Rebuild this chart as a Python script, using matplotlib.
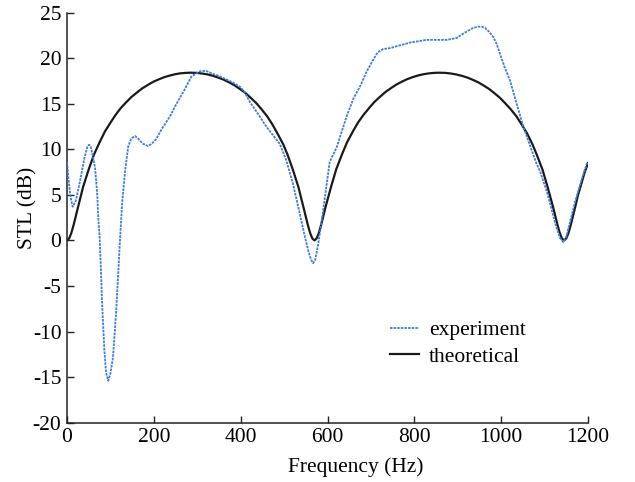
import matplotlib
matplotlib.use("Agg")
import matplotlib.pyplot as plt

plt.rcParams['font.family'] = ['Liberation Serif', 'DejaVu Serif']
plt.rcParams['axes.unicode_minus'] = False

# theoretical STL curve
theo_freq = [0, 5, 10, 15, 20, 25, 37, 50, 62, 75, 87, 100, 112, 124, 137, 149, 162, 174, 187,
             199, 212, 224, 237, 249, 261, 274, 285, 299, 311, 324, 336, 348, 361, 373, 386,
             398, 411, 423, 436, 448, 461, 473, 485, 498, 508, 520, 533, 545, 550, 555, 560,
             565, 570,
             575, 580, 585, 590, 595, 608, 620, 633, 645, 658, 670, 683, 696, 708, 721, 733,
             746, 758, 771, 783, 796, 808, 821, 834, 846, 857, 871, 884, 896, 909, 922, 934,
             947, 959, 972, 984, 997, 1009, 1022, 1035, 1047, 1060, 1072, 1082, 1095, 1107,
             1120, 1125, 1130, 1135, 1140, 1145,
             1150, 1155, 1160, 1165, 1170, 1177, 1185, 1192, 1200]
theo_stl = [0, 0.22, 0.81, 1.65, 2.60, 3.57, 5.85, 7.79, 9.40, 10.76, 11.92, 12.91, 13.78,
            14.53, 15.19, 15.76, 16.26, 16.70, 17.08, 17.41, 17.68, 17.91, 18.09, 18.23, 18.33,
            18.38, 18.40, 18.38, 18.31, 18.21, 18.06, 17.87, 17.63, 17.35, 17.01, 16.62, 16.17,
            15.65, 15.06, 14.39, 13.62, 12.73, 11.71, 10.55, 9.40, 7.79, 5.85, 3.57, 2.60, 1.65,
            0.81, 0.22, 0,
            0.22, 0.81, 1.65, 2.60, 3.57, 5.85, 7.79, 9.40, 10.76, 11.92, 12.91, 13.78, 14.53,
            15.19, 15.76, 16.26, 16.70, 17.08, 17.41, 17.68, 17.91, 18.09, 18.23, 18.33, 18.38,
            18.40, 18.38, 18.31, 18.21, 18.06, 17.87, 17.63, 17.35, 17.01, 16.62, 16.17, 15.65,
            15.06, 14.39, 13.62, 12.73, 11.71, 10.55, 9.40, 7.79, 5.85, 3.57, 2.60, 1.65, 0.81,
            0.22, 0,
            0.22, 0.81, 1.65, 2.60, 3.57, 4.98, 6.27, 7.43, 8.47]

exp_freq = [0, 4, 8, 13, 20, 30, 40, 47, 51, 55, 60, 65, 70, 72, 75, 78, 81, 86, 90, 95,
            100, 106, 113, 118, 122, 127, 134, 141, 148, 157, 165, 175, 187, 195, 205, 218,
            237, 250, 268, 287, 306, 320, 335, 352, 383, 400, 410, 421, 444, 456, 467, 490,
            505, 520, 533, 545, 555, 562, 567, 572, 580, 590, 605, 621, 644, 660, 675, 690,
            705, 715, 728, 745, 759, 790, 828, 875, 897, 910, 920, 935, 947, 955, 963, 972,
            982, 990, 997, 1008, 1020, 1032, 1043, 1051, 1065, 1080, 1090, 1105, 1115, 1125,
            1135, 1143, 1150, 1160, 1170, 1185, 1197, 1200]
exp_stl = [8.6, 6.5, 4.8, 3.7, 4.3, 6.5, 9.0, 10.3, 10.5, 10.2, 9.2, 7.8, 4.8, 2.5, 0.5, -3.0,
           -7.0, -12.0, -14.5, -15.4, -14.6, -12.8, -8.0, -3.6, 0.0, 4.1, 7.7, 10.3, 11.2, 11.45,
           11.1, 10.6, 10.35, 10.6, 11.1, 12.2, 13.6, 14.8, 16.3, 18.0, 18.55, 18.6, 18.3, 18.0,
           17.3, 16.8, 16.2, 15.2, 13.6, 12.7, 12.0, 10.6, 8.8, 6.3, 3.6, 1.0, -1.0, -2.1, -2.5,
           -2.1, 0.0, 3.3, 8.6, 10.2, 13.6, 15.6, 16.9, 18.5, 19.8, 20.6, 21.0, 21.1, 21.3, 21.7,
           22.0, 22.0, 22.2, 22.6, 22.9, 23.3, 23.45, 23.45, 23.3, 22.9, 22.3, 21.5, 20.5, 19.0,
           17.6, 15.6, 13.8, 12.5, 10.6, 8.6, 7.5, 5.4, 3.6, 1.8, 0.3, -0.2, 0.4, 2.3, 4.2, 6.6,
           8.4, 8.6]

x_ticks = [0, 200, 400, 600, 800, 1000, 1200]
y_ticks = [-20, -15, -10, -5, 0, 5, 10, 15, 20, 25]

FS = 15.5

fig = plt.figure(figsize=(6.35, 4.82), dpi=100)
ax = fig.add_axes([0.1055, 0.123, 0.8205, 0.851])

ax.plot(theo_freq, theo_stl, color='#1a1a1a', lw=1.6, label='theoretical', zorder=2)
ax.plot(exp_freq, exp_stl, color='#3b7dd8', lw=1.3, linestyle=(0, (1.4, 0.6)),
        label='experiment', zorder=3)

ax.set_xlim(0, 1200)
ax.set_ylim(-20, 25)
ax.set_xticks(x_ticks)
ax.set_yticks(y_ticks)
ax.set_xticklabels([str(t) for t in x_ticks])
ax.set_yticklabels([str(t) for t in y_ticks])
ax.tick_params(direction='in', length=5, width=1, labelsize=FS, pad=4, colors='#222222')
for lab in ax.get_xticklabels() + ax.get_yticklabels():
    lab.set_color('black')

for s in ['top', 'right']:
    ax.spines[s].set_visible(False)
for s in ['left', 'bottom']:
    ax.spines[s].set_linewidth(1.1)
    ax.spines[s].set_color('#222222')

ax.set_xlabel('Frequency (Hz)', fontsize=FS)
ax.set_ylabel('STL (dB)', fontsize=FS)
ax.xaxis.set_label_coords(0.555, -0.085)
ax.yaxis.set_label_coords(-0.056, 0.523)

handles, labels = ax.get_legend_handles_labels()
leg = ax.legend([handles[1], handles[0]], [labels[1], labels[0]],
                loc='upper left', bbox_to_anchor=(0.62, 0.25), frameon=False,
                fontsize=FS, handlelength=1.35, handletextpad=0.45, labelspacing=0.3,
                borderpad=0, borderaxespad=0)

fig.savefig('out.png', dpi=100)
